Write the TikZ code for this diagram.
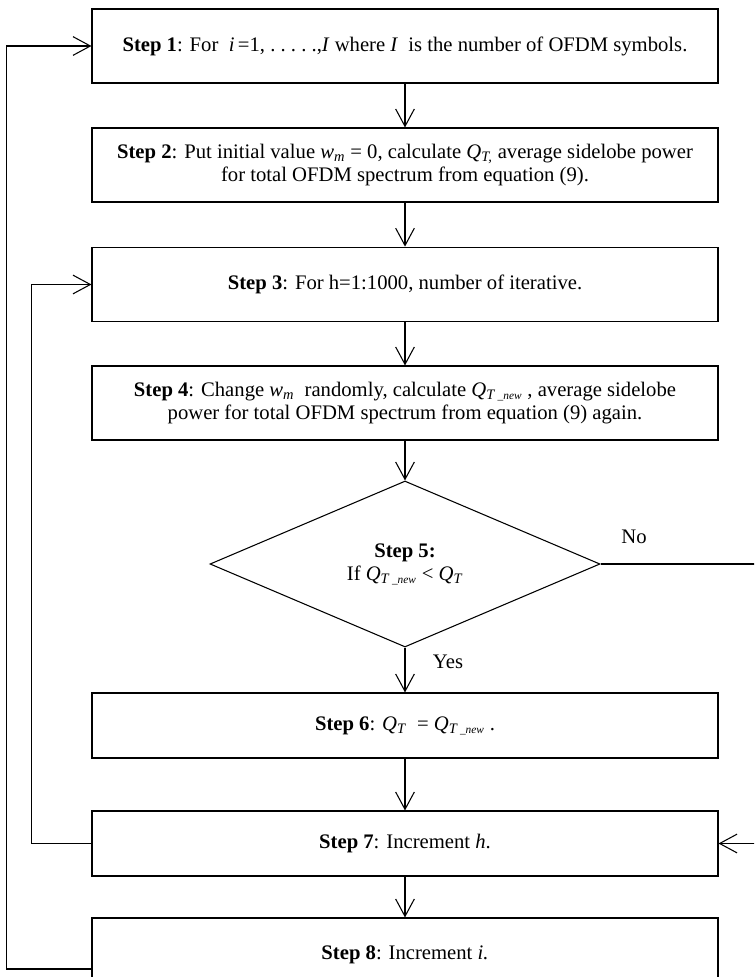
\documentclass[tikz,border=0pt]{standalone}
\usepackage{fontspec}
\setmainfont{Liberation Serif}
\usetikzlibrary{arrows.meta,shapes.geometric}

\newcommand{\Qt}{\textit{Q}\textsubscript{\textit{T}}}
\newcommand{\Qnew}{\textit{Q}\textsubscript{\textit{T}\,{\fontsize{8.5}{8.5}\selectfont\textit{\_new}}}}
\newcommand{\wm}{\textit{w}\textsubscript{\textit{m}}}

\tikzset{
  stepbox/.style={draw, line width=0.8pt, minimum width=469.5pt, align=center, inner sep=2pt},
  decision/.style={draw, diamond, aspect=2.35, line width=0.8pt, minimum width=292.5pt,
    minimum height=124.5pt, inner sep=0pt, align=center},
  flow/.style={line width=0.8pt, -{Straight Barb[length=13pt,width=14pt]}},
}

\begin{document}
\begin{tikzpicture}[x=0.75pt,y=-0.75pt,font=\fontsize{15.5}{17.5}\selectfont]
  \useasboundingbox (0,0) rectangle (754,977);
  \clip (0,0) rectangle (754,977);

  % the steps
  \node[stepbox, minimum height=55.5pt] (s1) at (405,46)
    {\textbf{Step 1}: For \ \textit{i\,}=1, .\ .\ .\ .\ .,\textit{I} where \textit{I}\ \ is the number of OFDM symbols.};
  \node[stepbox, minimum height=55.5pt] (s2) at (405,165)
    {\textbf{Step 2}: Put initial value \wm{} = 0, calculate \textit{Q}\textsubscript{\textit{T,}} average sidelobe power\\
     for total OFDM spectrum from equation (9).};
  \node[stepbox, minimum height=56pt] (s3) at (405,284.5)
    {\textbf{Step 3}: For h=1:1000, number of iterative.};
  \node[stepbox, minimum height=55.5pt] (s4) at (405,403)
    {\textbf{Step 4}: Change \wm\ \ randomly, calculate \Qnew\ , average sidelobe\\
     power for total OFDM spectrum from equation (9) again.};
  \node[decision] (d5) at (405,564) {\textbf{Step 5:}\\ If \Qnew{} < \Qt};
  \node[stepbox, minimum height=48.75pt] (s6) at (405,725.5)
    {\textbf{Step 6}: \Qt\ \ = \Qnew\ .};
  \node[stepbox, minimum height=48.75pt] (s7) at (405,843.5)
    {\textbf{Step 7}: Increment \textit{h}.};
  \node[stepbox, minimum height=55.5pt] (s8) at (405,955)
    {\textbf{Step 8}: Increment \textit{i.}};

  \node (no) at (634,537) {No};
  \node (yes) at (448,662) {Yes};

  % down arrows
  \draw[flow] (s1.south) -- (s2.north);
  \draw[flow] (s2.south) -- (s3.north);
  \draw[flow] (s3.south) -- (s4.north);
  \draw[flow] (s4.south) -- (d5.north);
  \draw[flow] (d5.south) -- (s6.north);
  \draw[flow] (s6.south) -- (s7.north);
  \draw[flow] (s7.south) -- (s8.north);

  % loops back
  \coordinate (rgt) at (775,564);
  \draw[flow] (d5.east) -- (rgt) |- (s7.east);
  \draw[flow] (s7.west) -- ++(-60,0) |- (s3.west);
  \draw[flow] ([yshift=-10.5pt]s8.west) -- ++(-85,0) |- (s1.west);
\end{tikzpicture}
\end{document}
